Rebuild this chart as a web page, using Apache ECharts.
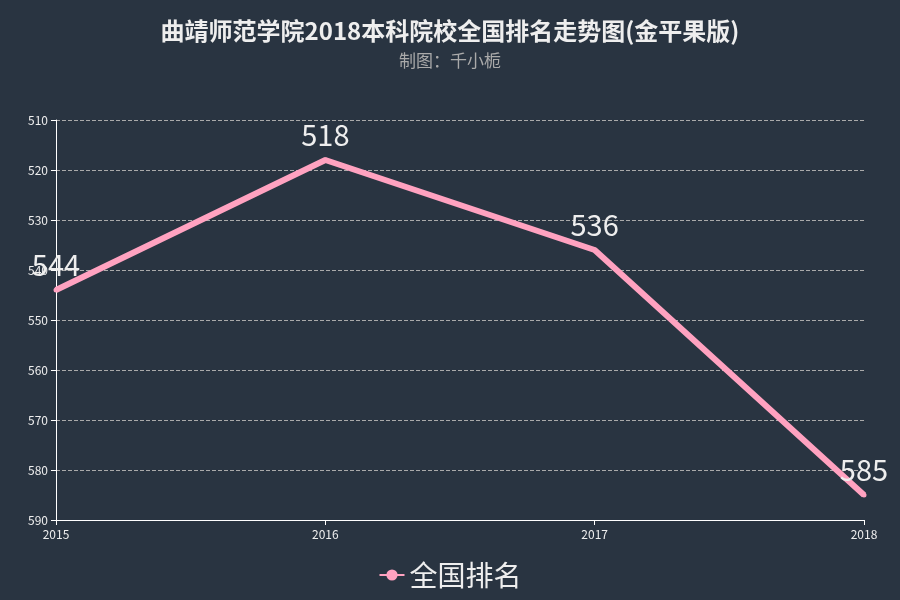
<!DOCTYPE html>
<html><head><meta charset="utf-8">
<script src="https://cdn.jsdelivr.net/npm/echarts@6/dist/echarts.min.js"></script>
<style>html,body{margin:0;padding:0;background:#293441;}#c{width:900px;height:600px;}</style>
</head><body><div id="c"></div>
<script>
const years = ['2015','2016','2017','2018'];
const ranks = [544, 518, 536, 585];
const seriesName = '全国排名';
const chart = echarts.init(document.getElementById('c'));
chart.setOption({
  backgroundColor: '#293441',
  textStyle: {fontFamily: '"Noto Sans CJK SC", sans-serif'},
  title: {
    text: '曲靖师范学院2018本科院校全国排名走势图(金平果版)',
    subtext: '制图：千小栀',
    left: 'center', top: 14, itemGap: 9,
    textStyle: {color: '#eeeeee', fontSize: 24, fontWeight: 'bold'},
    subtextStyle: {color: '#aaaaaa', fontSize: 17}
  },
  legend: {
    data: [seriesName], bottom: 6, left: 'center',
    itemWidth: 25, itemHeight: 14,
    textStyle: {color: '#eeeeee', fontSize: 28}
  },
  grid: {left: 56, right: 36, top: 120, bottom: 80},
  xAxis: {
    type: 'category', data: years, boundaryGap: false,
    axisLine: {lineStyle: {color: '#ffffff'}},
    axisTick: {lineStyle: {color: '#ffffff'}},
    axisLabel: {color: '#eeeeee', fontSize: 12}
  },
  yAxis: {
    type: 'value', inverse: true, min: 510, max: 590, interval: 10,
    axisLine: {show: true, lineStyle: {color: '#ffffff'}},
    axisTick: {show: true, lineStyle: {color: '#ffffff'}},
    axisLabel: {color: '#eeeeee', fontSize: 12},
    splitLine: {lineStyle: {color: '#aaaaaa', type: 'dashed'}}
  },
  series: [{
    name: seriesName, type: 'line', data: ranks,
    symbol: 'circle', symbolSize: 5,
    itemStyle: {color: '#ffa2c0'},
    lineStyle: {width: 6, color: '#ffa2c0'},
    label: {show: true, position: 'top', color: '#eeeeee', fontSize: 29, distance: 8}
  }]
});
</script></body></html>
